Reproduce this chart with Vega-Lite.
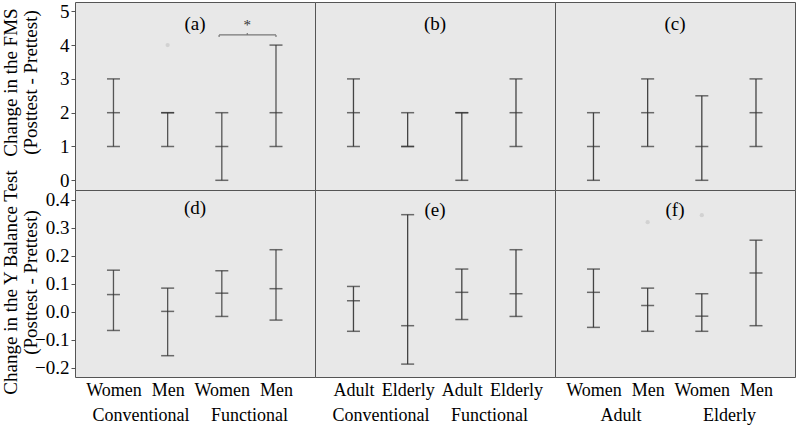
{
  "$schema": "https://vega.github.io/schema/vega-lite/v6.json",
  "padding": {"left": 0, "top": 1, "right": 0, "bottom": 0},
  "background": "white",
  "datasets": {
    "bars": [
      {"panel": "a", "x": 1, "lo": 1, "med": 2, "hi": 3},
      {"panel": "a", "x": 2, "lo": 1, "med": 2, "hi": 2},
      {"panel": "a", "x": 3, "lo": 0, "med": 1, "hi": 2},
      {"panel": "a", "x": 4, "lo": 1, "med": 2, "hi": 4},
      {"panel": "b", "x": 1, "lo": 1, "med": 2, "hi": 3},
      {"panel": "b", "x": 2, "lo": 1, "med": 1, "hi": 2},
      {"panel": "b", "x": 3, "lo": 0, "med": 2, "hi": 2},
      {"panel": "b", "x": 4, "lo": 1, "med": 2, "hi": 3},
      {"panel": "c", "x": 1, "lo": 0, "med": 1, "hi": 2},
      {"panel": "c", "x": 2, "lo": 1, "med": 2, "hi": 3},
      {"panel": "c", "x": 3, "lo": 0, "med": 1, "hi": 2.5},
      {"panel": "c", "x": 4, "lo": 1, "med": 2, "hi": 3},
      {"panel": "d", "x": 1, "lo": -0.067, "med": 0.061, "hi": 0.148},
      {"panel": "d", "x": 2, "lo": -0.157, "med": 0.001, "hi": 0.084},
      {"panel": "d", "x": 3, "lo": -0.017, "med": 0.066, "hi": 0.146},
      {"panel": "d", "x": 4, "lo": -0.03, "med": 0.082, "hi": 0.221},
      {"panel": "e", "x": 1, "lo": -0.07, "med": 0.039, "hi": 0.09},
      {"panel": "e", "x": 2, "lo": -0.187, "med": -0.05, "hi": 0.346},
      {"panel": "e", "x": 3, "lo": -0.028, "med": 0.069, "hi": 0.152},
      {"panel": "e", "x": 4, "lo": -0.017, "med": 0.064, "hi": 0.221},
      {"panel": "f", "x": 1, "lo": -0.056, "med": 0.069, "hi": 0.152},
      {"panel": "f", "x": 2, "lo": -0.07, "med": 0.022, "hi": 0.084},
      {"panel": "f", "x": 3, "lo": -0.07, "med": -0.016, "hi": 0.064},
      {"panel": "f", "x": 4, "lo": -0.05, "med": 0.138, "hi": 0.255}
    ],
    "outliers": [
      {"panel": "a", "x": 2, "y": 4.0},
      {"panel": "f", "x": 2, "y": 0.319},
      {"panel": "f", "x": 3, "y": 0.344}
    ],
    "bracket": [
      {"x": 2.95, "x2": 4.0, "y": 4.3, "y2": 4.3},
      {"x": 2.95, "x2": 2.95, "y": 4.3, "y2": 4.24},
      {"x": 4.0, "x2": 4.0, "y": 4.3, "y2": 4.24},
      {"x": 3.47, "x2": 3.47, "y": 4.3, "y2": 4.36}
    ],
    "star": [{"x": 3.47, "y": 4.45, "label": "*"}]
  },
  "concat": [
    {
      "width": 240, "height": 188,
      "title": {"text": "(a)", "offset": -32},
      "layer": [
        {
          "data": {"name": "bars"},
          "transform": [{"filter": "datum.panel == 'a'"}],
          "mark": {"type": "rule", "color": "#555555", "strokeWidth": 1.3},
          "encoding": {
            "x": {"field": "x", "type": "quantitative", "scale": {"domain": [0.29, 4.72], "nice": false, "zero": false}, "axis": null},
            "y": {"field": "lo", "type": "quantitative", "scale": {"domain": [-0.287, 5.275], "nice": false, "zero": false},
              "axis": {"values": [0, 1, 2, 3, 4, 5], "format": "d", "title": ["Change in the FMS", "(Posttest - Prettest)"], "titleFontSize": 19, "titleFontWeight": "normal", "titleLineHeight": 20, "titleX": -59, "titleY": 80, "titleBaseline": "alphabetic", "tickSize": 4, "tickColor": "#555555", "labelFontSize": 19, "labelPadding": 2, "domain": false, "grid": false}},
            "y2": {"field": "hi"}
          }
        },
        {
          "data": {"name": "bars"},
          "transform": [{"filter": "datum.panel == 'a'"}, {"fold": ["lo", "med", "hi"], "as": ["k", "v"]}],
          "mark": {"type": "tick", "orient": "horizontal", "size": 13, "thickness": 1.5, "color": "#333333"},
          "encoding": {
            "x": {"field": "x", "type": "quantitative", "axis": null},
            "y": {"field": "v", "type": "quantitative",
              "axis": {"values": [0, 1, 2, 3, 4, 5], "format": "d", "title": ["Change in the FMS", "(Posttest - Prettest)"], "titleFontSize": 19, "titleFontWeight": "normal", "titleLineHeight": 20, "titleX": -59, "titleY": 80, "titleBaseline": "alphabetic", "tickSize": 4, "tickColor": "#555555", "labelFontSize": 19, "labelPadding": 2, "domain": false, "grid": false}}
          }
        },
        {
          "data": {"name": "outliers"},
          "transform": [{"filter": "datum.panel == 'a'"}],
          "mark": {"type": "point", "filled": true, "color": "#d2d2d2", "size": 18, "opacity": 1},
          "encoding": {
            "x": {"field": "x", "type": "quantitative", "axis": null},
            "y": {"field": "y", "type": "quantitative",
              "axis": {"values": [0, 1, 2, 3, 4, 5], "format": "d", "title": ["Change in the FMS", "(Posttest - Prettest)"], "titleFontSize": 19, "titleFontWeight": "normal", "titleLineHeight": 20, "titleX": -59, "titleY": 80, "titleBaseline": "alphabetic", "tickSize": 4, "tickColor": "#555555", "labelFontSize": 19, "labelPadding": 2, "domain": false, "grid": false}}
          }
        },
        {
          "data": {"name": "bracket"},
          "mark": {"type": "rule", "color": "#777777", "strokeWidth": 1.2},
          "encoding": {
            "x": {"field": "x", "type": "quantitative", "axis": null},
            "x2": {"field": "x2"},
            "y": {"field": "y", "type": "quantitative",
              "axis": {"values": [0, 1, 2, 3, 4, 5], "format": "d", "title": ["Change in the FMS", "(Posttest - Prettest)"], "titleFontSize": 19, "titleFontWeight": "normal", "titleLineHeight": 20, "titleX": -59, "titleY": 80, "titleBaseline": "alphabetic", "tickSize": 4, "tickColor": "#555555", "labelFontSize": 19, "labelPadding": 2, "domain": false, "grid": false}},
            "y2": {"field": "y2"}
          }
        },
        {
          "data": {"name": "star"},
          "mark": {"type": "text", "fontSize": 15, "baseline": "alphabetic", "align": "center", "color": "#333333"},
          "encoding": {
            "x": {"field": "x", "type": "quantitative", "axis": null},
            "y": {"field": "y", "type": "quantitative",
              "axis": {"values": [0, 1, 2, 3, 4, 5], "format": "d", "title": ["Change in the FMS", "(Posttest - Prettest)"], "titleFontSize": 19, "titleFontWeight": "normal", "titleLineHeight": 20, "titleX": -59, "titleY": 80, "titleBaseline": "alphabetic", "tickSize": 4, "tickColor": "#555555", "labelFontSize": 19, "labelPadding": 2, "domain": false, "grid": false}},
            "text": {"field": "label"}
          }
        }
      ]
    },
    {
      "width": 240, "height": 188,
      "title": {"text": "(b)", "offset": -32},
      "layer": [
        {
          "data": {"name": "bars"},
          "transform": [{"filter": "datum.panel == 'b'"}],
          "mark": {"type": "rule", "color": "#444444", "strokeWidth": 1.3},
          "encoding": {
            "x": {"field": "x", "type": "quantitative", "scale": {"domain": [0.29, 4.72], "nice": false, "zero": false}, "axis": null},
            "y": {"field": "lo", "type": "quantitative", "scale": {"domain": [-0.287, 5.275], "nice": false, "zero": false}, "axis": null},
            "y2": {"field": "hi"}
          }
        },
        {
          "data": {"name": "bars"},
          "transform": [{"filter": "datum.panel == 'b'"}, {"fold": ["lo", "med", "hi"], "as": ["k", "v"]}],
          "mark": {"type": "tick", "orient": "horizontal", "size": 13, "thickness": 1.5, "color": "#333333"},
          "encoding": {
            "x": {"field": "x", "type": "quantitative", "axis": null},
            "y": {"field": "v", "type": "quantitative", "axis": null}
          }
        }
      ]
    },
    {
      "width": 240, "height": 188,
      "title": {"text": "(c)", "offset": -32},
      "layer": [
        {
          "data": {"name": "bars"},
          "transform": [{"filter": "datum.panel == 'c'"}],
          "mark": {"type": "rule", "color": "#444444", "strokeWidth": 1.3},
          "encoding": {
            "x": {"field": "x", "type": "quantitative", "scale": {"domain": [0.29, 4.72], "nice": false, "zero": false}, "axis": null},
            "y": {"field": "lo", "type": "quantitative", "scale": {"domain": [-0.287, 5.275], "nice": false, "zero": false}, "axis": null},
            "y2": {"field": "hi"}
          }
        },
        {
          "data": {"name": "bars"},
          "transform": [{"filter": "datum.panel == 'c'"}, {"fold": ["lo", "med", "hi"], "as": ["k", "v"]}],
          "mark": {"type": "tick", "orient": "horizontal", "size": 13, "thickness": 1.5, "color": "#333333"},
          "encoding": {
            "x": {"field": "x", "type": "quantitative", "axis": null},
            "y": {"field": "v", "type": "quantitative", "axis": null}
          }
        }
      ]
    },
    {
      "width": 240, "height": 187,
      "title": {"text": "(d)", "offset": -49},
      "layer": [
        {
          "data": {"name": "bars"},
          "transform": [{"filter": "datum.panel == 'd'"}],
          "mark": {"type": "rule", "color": "#555555", "strokeWidth": 1.3},
          "encoding": {
            "x": {"field": "x", "type": "quantitative", "scale": {"domain": [0.29, 4.72], "nice": false, "zero": false},
              "axis": {"values": [1, 1.5, 2, 3, 3.5, 4], "labelExpr": "datum.value == 1 || datum.value == 3 ? 'Women' : datum.value == 2 || datum.value == 4 ? 'Men' : datum.value == 1.5 ? ['', 'Conventional'] : ['', 'Functional']", "ticks": false, "tickSize": 0, "domain": false, "grid": false, "labelFontSize": 18, "labelLineHeight": 25, "labelPadding": 4, "labelOverlap": false, "labelFlush": false, "labelBound": false, "title": null}},
            "y": {"field": "lo", "type": "quantitative", "scale": {"domain": [-0.233, 0.434], "nice": false, "zero": false},
              "axis": {"values": [-0.2, -0.1, 0, 0.1, 0.2, 0.3, 0.4], "format": ".1f", "title": ["Change in the Y Balance Test", "(Posttest - Prettest)"], "titleFontSize": 19, "titleFontWeight": "normal", "titleLineHeight": 20, "titleX": -59, "titleY": 92, "titleBaseline": "alphabetic", "tickSize": 4, "tickColor": "#555555", "labelFontSize": 19, "labelPadding": 2, "domain": false, "grid": false}},
            "y2": {"field": "hi"}
          }
        },
        {
          "data": {"name": "bars"},
          "transform": [{"filter": "datum.panel == 'd'"}, {"fold": ["lo", "med", "hi"], "as": ["k", "v"]}],
          "mark": {"type": "tick", "orient": "horizontal", "size": 13, "thickness": 1.5, "color": "#333333"},
          "encoding": {
            "x": {"field": "x", "type": "quantitative",
              "axis": {"values": [1, 1.5, 2, 3, 3.5, 4], "labelExpr": "datum.value == 1 || datum.value == 3 ? 'Women' : datum.value == 2 || datum.value == 4 ? 'Men' : datum.value == 1.5 ? ['', 'Conventional'] : ['', 'Functional']", "ticks": false, "tickSize": 0, "domain": false, "grid": false, "labelFontSize": 18, "labelLineHeight": 25, "labelPadding": 4, "labelOverlap": false, "labelFlush": false, "labelBound": false, "title": null}},
            "y": {"field": "v", "type": "quantitative",
              "axis": {"values": [-0.2, -0.1, 0, 0.1, 0.2, 0.3, 0.4], "format": ".1f", "title": ["Change in the Y Balance Test", "(Posttest - Prettest)"], "titleFontSize": 19, "titleFontWeight": "normal", "titleLineHeight": 20, "titleX": -59, "titleY": 92, "titleBaseline": "alphabetic", "tickSize": 4, "tickColor": "#555555", "labelFontSize": 19, "labelPadding": 2, "domain": false, "grid": false}}
          }
        }
      ]
    },
    {
      "width": 240, "height": 187,
      "title": {"text": "(e)", "offset": -30},
      "layer": [
        {
          "data": {"name": "bars"},
          "transform": [{"filter": "datum.panel == 'e'"}],
          "mark": {"type": "rule", "color": "#444444", "strokeWidth": 1.3},
          "encoding": {
            "x": {"field": "x", "type": "quantitative", "scale": {"domain": [0.29, 4.72], "nice": false, "zero": false},
              "axis": {"values": [1, 1.5, 2, 3, 3.5, 4], "labelExpr": "datum.value == 1 || datum.value == 3 ? 'Adult' : datum.value == 2 || datum.value == 4 ? 'Elderly' : datum.value == 1.5 ? ['', 'Conventional'] : ['', 'Functional']", "ticks": false, "tickSize": 0, "domain": false, "grid": false, "labelFontSize": 18, "labelLineHeight": 25, "labelPadding": 4, "labelOverlap": false, "labelFlush": false, "labelBound": false, "title": null}},
            "y": {"field": "lo", "type": "quantitative", "scale": {"domain": [-0.233, 0.434], "nice": false, "zero": false}, "axis": null},
            "y2": {"field": "hi"}
          }
        },
        {
          "data": {"name": "bars"},
          "transform": [{"filter": "datum.panel == 'e'"}, {"fold": ["lo", "med", "hi"], "as": ["k", "v"]}],
          "mark": {"type": "tick", "orient": "horizontal", "size": 13, "thickness": 1.5, "color": "#333333"},
          "encoding": {
            "x": {"field": "x", "type": "quantitative",
              "axis": {"values": [1, 1.5, 2, 3, 3.5, 4], "labelExpr": "datum.value == 1 || datum.value == 3 ? 'Adult' : datum.value == 2 || datum.value == 4 ? 'Elderly' : datum.value == 1.5 ? ['', 'Conventional'] : ['', 'Functional']", "ticks": false, "tickSize": 0, "domain": false, "grid": false, "labelFontSize": 18, "labelLineHeight": 25, "labelPadding": 4, "labelOverlap": false, "labelFlush": false, "labelBound": false, "title": null}},
            "y": {"field": "v", "type": "quantitative", "axis": null}
          }
        }
      ]
    },
    {
      "width": 240, "height": 187,
      "title": {"text": "(f)", "offset": -30},
      "layer": [
        {
          "data": {"name": "bars"},
          "transform": [{"filter": "datum.panel == 'f'"}],
          "mark": {"type": "rule", "color": "#444444", "strokeWidth": 1.3},
          "encoding": {
            "x": {"field": "x", "type": "quantitative", "scale": {"domain": [0.29, 4.72], "nice": false, "zero": false},
              "axis": {"values": [1, 1.5, 2, 3, 3.5, 4], "labelExpr": "datum.value == 1 || datum.value == 3 ? 'Women' : datum.value == 2 || datum.value == 4 ? 'Men' : datum.value == 1.5 ? ['', 'Adult'] : ['', 'Elderly']", "ticks": false, "tickSize": 0, "domain": false, "grid": false, "labelFontSize": 18, "labelLineHeight": 25, "labelPadding": 4, "labelOverlap": false, "labelFlush": false, "labelBound": false, "title": null}},
            "y": {"field": "lo", "type": "quantitative", "scale": {"domain": [-0.233, 0.434], "nice": false, "zero": false}, "axis": null},
            "y2": {"field": "hi"}
          }
        },
        {
          "data": {"name": "bars"},
          "transform": [{"filter": "datum.panel == 'f'"}, {"fold": ["lo", "med", "hi"], "as": ["k", "v"]}],
          "mark": {"type": "tick", "orient": "horizontal", "size": 13, "thickness": 1.5, "color": "#333333"},
          "encoding": {
            "x": {"field": "x", "type": "quantitative",
              "axis": {"values": [1, 1.5, 2, 3, 3.5, 4], "labelExpr": "datum.value == 1 || datum.value == 3 ? 'Women' : datum.value == 2 || datum.value == 4 ? 'Men' : datum.value == 1.5 ? ['', 'Adult'] : ['', 'Elderly']", "ticks": false, "tickSize": 0, "domain": false, "grid": false, "labelFontSize": 18, "labelLineHeight": 25, "labelPadding": 4, "labelOverlap": false, "labelFlush": false, "labelBound": false, "title": null}},
            "y": {"field": "v", "type": "quantitative", "axis": null}
          }
        },
        {
          "data": {"name": "outliers"},
          "transform": [{"filter": "datum.panel == 'f'"}],
          "mark": {"type": "point", "filled": true, "color": "#d2d2d2", "size": 18, "opacity": 1},
          "encoding": {
            "x": {"field": "x", "type": "quantitative",
              "axis": {"values": [1, 1.5, 2, 3, 3.5, 4], "labelExpr": "datum.value == 1 || datum.value == 3 ? 'Women' : datum.value == 2 || datum.value == 4 ? 'Men' : datum.value == 1.5 ? ['', 'Adult'] : ['', 'Elderly']", "ticks": false, "tickSize": 0, "domain": false, "grid": false, "labelFontSize": 18, "labelLineHeight": 25, "labelPadding": 4, "labelOverlap": false, "labelFlush": false, "labelBound": false, "title": null}},
            "y": {"field": "y", "type": "quantitative", "axis": null}
          }
        }
      ]
    }
  ],
  "columns": 3,
  "spacing": 0,
  "align": "each",
  "bounds": "flush",
  "config": {
    "font": "Liberation Serif",
    "view": {"stroke": "#555555", "strokeWidth": 1, "fill": "#e8e8e8"},
    "axis": {"labelColor": "#000000", "titleColor": "#000000", "labelFont": "Liberation Serif", "titleFont": "Liberation Serif"},
    "title": {"fontSize": 19, "fontWeight": "normal", "color": "#000000", "font": "Liberation Serif", "anchor": "middle"}
  }
}
